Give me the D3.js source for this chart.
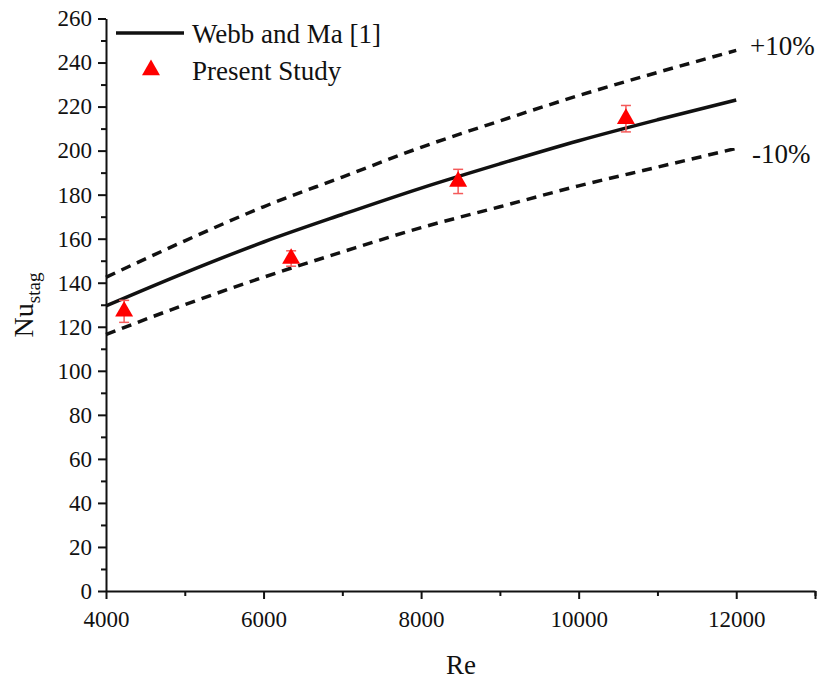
<!DOCTYPE html>
<html>
<head>
<meta charset="utf-8">
<script src="https://cdn.jsdelivr.net/npm/d3@7"></script>
<style>
  body { margin: 0; background: #fff; }
  svg text { fill: #111; }
</style>
</head>
<body>
<div id="chart"></div>
<script>
// Re values for the correlation lines
const reLine = [4000, 5000, 6000, 7000, 8000, 9000, 10000, 11000, 12000];
const webbMa = [129.5, 144.5, 158.5, 171, 183, 194, 204.5, 214, 223];
const plus10 = [142.5, 159, 174.5, 188, 201.5, 213.5, 225, 235.5, 245.5];
const minus10 = [116.5, 130, 142.5, 154, 165, 174.5, 184, 192.5, 201];

// present study points
const rePts = [4230, 6350, 8470, 10600];
const nuPts = [127, 151, 186, 214.5];
const nuErr = [5, 3.5, 5.5, 6];

const xTicks = [4000, 6000, 8000, 10000, 12000];
const yTicks = [0, 20, 40, 60, 80, 100, 120, 140, 160, 180, 200, 220, 240, 260];

const serif = "Liberation Serif, DejaVu Serif, serif";

let W = 826, H = 683;
let svg = d3.select("#chart").append("svg")
    .attr("width", W)
    .attr("height", H)
    .style("font-family", serif);

let x = d3.scaleLinear().domain([4000, 13000]).range([106, 815]);
let y = d3.scaleLinear().domain([0, 260]).range([591, 18.5]);

// minor ticks first (no labels)
svg.append("g")
    .attr("transform", "translate(0,591)")
    .call(d3.axisBottom(x).tickValues(d3.range(5000, 13001, 2000)).tickSize(5).tickFormat(""))
    .call(g => g.select(".domain").remove());

svg.append("g")
    .attr("transform", "translate(106,0)")
    .call(d3.axisLeft(y).tickValues(d3.range(10, 260, 20)).tickSize(5).tickFormat(""))
    .call(g => g.select(".domain").remove());

// major axes
let xAxis = svg.append("g")
    .attr("transform", "translate(0,591)")
    .call(d3.axisBottom(x).tickValues(xTicks.concat([13000])).tickSizeInner(8).tickSizeOuter(0)
        .tickFormat(d => d === 13000 ? "" : d).tickPadding(6));

let yAxis = svg.append("g")
    .attr("transform", "translate(106,0)")
    .call(d3.axisLeft(y).tickValues(yTicks).tickSizeInner(8).tickSizeOuter(0).tickPadding(6));

svg.selectAll(".tick line, .domain")
    .attr("stroke", "#111")
    .attr("stroke-width", 2);

xAxis.selectAll("text").attr("font-size", 23).attr("dy", "0.95em");
yAxis.selectAll("text").attr("font-size", 23);

// axis titles
svg.append("text")
    .attr("x", 461)
    .attr("y", 674)
    .attr("text-anchor", "middle")
    .attr("font-size", 27)
    .text("Re");

let yt = svg.append("text")
    .attr("transform", "translate(33,305) rotate(-90)")
    .attr("text-anchor", "middle")
    .attr("font-size", 28);
yt.append("tspan").text("Nu");
yt.append("tspan").attr("font-size", 19).attr("dy", 7).text("stag");

// lines
let line = d3.line()
    .x((d, i) => x(reLine[i]))
    .y(d => y(d))
    .curve(d3.curveMonotoneX);

svg.append("path")
    .datum(plus10)
    .attr("d", line)
    .attr("fill", "none")
    .attr("stroke", "#111")
    .attr("stroke-width", 3.5)
    .attr("stroke-dasharray", "10,7");

svg.append("path")
    .datum(minus10)
    .attr("d", line)
    .attr("fill", "none")
    .attr("stroke", "#111")
    .attr("stroke-width", 3.5)
    .attr("stroke-dasharray", "10,7");

svg.append("path")
    .datum(webbMa)
    .attr("d", line)
    .attr("fill", "none")
    .attr("stroke", "#111")
    .attr("stroke-width", 3.5);

// error bars
let pts = rePts.map((r, i) => ({re: r, nu: nuPts[i], err: nuErr[i]}));

let eb = svg.selectAll(".err")
    .data(pts)
    .enter().append("g")
    .attr("class", "err")
    .attr("stroke", "#f45a5a")
    .attr("stroke-width", 1.5);

eb.append("line")
    .attr("x1", d => x(d.re)).attr("x2", d => x(d.re))
    .attr("y1", d => y(d.nu + d.err)).attr("y2", d => y(d.nu - d.err));
eb.append("line")
    .attr("x1", d => x(d.re) - 5).attr("x2", d => x(d.re) + 5)
    .attr("y1", d => y(d.nu + d.err)).attr("y2", d => y(d.nu + d.err));
eb.append("line")
    .attr("x1", d => x(d.re) - 5).attr("x2", d => x(d.re) + 5)
    .attr("y1", d => y(d.nu - d.err)).attr("y2", d => y(d.nu - d.err));

let tri = d3.symbol().type(d3.symbolTriangle).size(140);

svg.selectAll(".pt")
    .data(pts)
    .enter().append("path")
    .attr("class", "pt")
    .attr("d", tri)
    .attr("transform", d => "translate(" + x(d.re) + "," + y(d.nu) + ")")
    .attr("fill", "#ff0000");

// +/-10% labels
svg.append("text").attr("x", 750).attr("y", 55).attr("font-size", 27).text("+10%");
svg.append("text").attr("x", 752).attr("y", 163).attr("font-size", 27).text("-10%");

// legend
svg.append("line")
    .attr("x1", 116).attr("x2", 184)
    .attr("y1", 33).attr("y2", 33)
    .attr("stroke", "#111")
    .attr("stroke-width", 3.5);
svg.append("text").attr("x", 192).attr("y", 43).attr("font-size", 27).text("Webb and Ma [1]");

svg.append("path")
    .attr("d", tri)
    .attr("transform", "translate(151,70)")
    .attr("fill", "#ff0000");
svg.append("text").attr("x", 192).attr("y", 80).attr("font-size", 27).text("Present Study");

// the axis groups carry their own font-family attribute, so set it on every text
svg.selectAll("text").style("font-family", serif);
</script>
</body>
</html>
